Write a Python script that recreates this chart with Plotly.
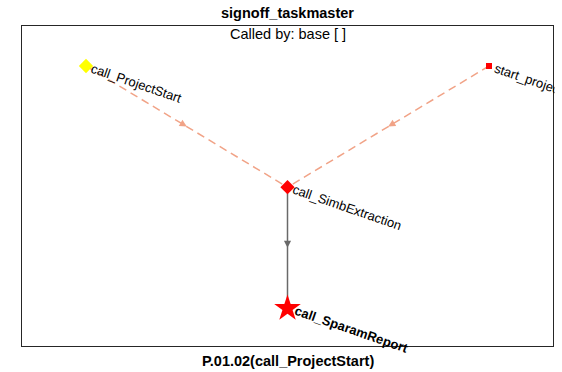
import plotly.graph_objects as go

# ---- data ----
node_names = ["call_ProjectStart", "start_project", "call_SimbExtraction", "call_SparamReport"]
node_x = [1, 3, 2, 2]
node_y = [3, 3, 2, 1]
node_symbols = ["diamond", "square", "diamond", "star"]
node_colors = ["#FF0000" if i else "#FFFF00" for i in range(4)]
node_sizes = [11, 6, 11, 20]
label_bold = [False, False, False, True]

edge_src = [0, 1, 2]
edge_dst = [2, 2, 3]
edge_dashed = [True, True, False]

title_text = "signoff_taskmaster"
subtitle_text = "Called by: base [ ]"
xlabel_text = "P.01.02(call_ProjectStart)"

FONT = "Liberation Sans, Arial, Helvetica, sans-serif"
DASH_COLOR = "rgb(241,163,135)"
SOLID_COLOR = "rgb(105,105,105)"

fig = go.Figure()
annotations = []

for s, d, dashed in zip(edge_src, edge_dst, edge_dashed):
    x0, y0, x1, y1 = node_x[s], node_y[s], node_x[d], node_y[d]
    col = DASH_COLOR if dashed else SOLID_COLOR
    fig.add_trace(go.Scatter(
        x=[x0, x1], y=[y0, y1], mode="lines",
        line=dict(color=col, width=1.5, dash="8px,5px" if dashed else "solid"),
        hoverinfo="skip", showlegend=False))
    # arrowhead at midpoint
    mx, my = (x0 + x1) / 2, (y0 + y1) / 2
    tx, ty = x0 + (x1 - x0) * 0.47, y0 + (y1 - y0) * 0.47
    annotations.append(dict(
        x=mx, y=my, ax=tx, ay=ty, xref="x", yref="y", axref="x", ayref="y",
        showarrow=True, arrowhead=2, arrowsize=1.1, arrowwidth=1.3,
        arrowcolor=col, text=""))

fig.add_trace(go.Scatter(
    x=node_x, y=node_y, mode="markers",
    marker=dict(symbol=node_symbols, color=node_colors, size=node_sizes,
                opacity=1, line=dict(width=0)),
    hoverinfo="skip", showlegend=False))

for name, x, y, b in zip(node_names, node_x, node_y, label_bold):
    annotations.append(dict(
        x=x, y=y, xref="x", yref="y", text=f"<b>{name}</b>" if b else name,
        showarrow=False, textangle=19, xanchor="left", yanchor="top",
        xshift=1 if not b else 3, yshift=8,
        font=dict(family=FONT, size=13, color="black")))

# clip labels at the right edge of the axes box (as the reference does)
annotations.append(dict(x=1, y=0.5, xref="paper", yref="paper", text=" ",
                        showarrow=False, xanchor="left", yanchor="middle", xshift=1,
                        width=12, height=330, bgcolor="white", borderpad=0))

annotations.append(dict(x=0.5, y=1, xref="paper", yref="paper", text=subtitle_text,
                        showarrow=False, xanchor="center", yanchor="top", yshift=2,
                        font=dict(family=FONT, size=14.5, color="black")))
annotations.append(dict(x=0.5, y=1, xref="paper", yref="paper", text=f"<b>{title_text}</b>",
                        showarrow=False, xanchor="center", yanchor="bottom", yshift=3,
                        font=dict(family=FONT, size=14.5, color="black")))
annotations.append(dict(x=0.5, y=0, xref="paper", yref="paper", text=f"<b>{xlabel_text}</b>",
                        showarrow=False, xanchor="center", yanchor="top", yshift=-5,
                        font=dict(family=FONT, size=14.5, color="black")))

axis_common = dict(showgrid=False, zeroline=False, showticklabels=False, ticks="",
                   showline=True, linecolor="#262626", linewidth=1, mirror=True)
fig.update_layout(
    width=562, height=372,
    margin=dict(l=22, r=9, t=26, b=26),
    paper_bgcolor="white", plot_bgcolor="white",
    xaxis=dict(range=[0.6824, 3.3176], **axis_common),
    yaxis=dict(range=[0.69, 3.33], **axis_common),
    annotations=annotations,
)
fig.write_html("out.html", config={"displayModeBar": False},
               post_script="document.body.style.margin='0';document.body.style.overflow='hidden';")
